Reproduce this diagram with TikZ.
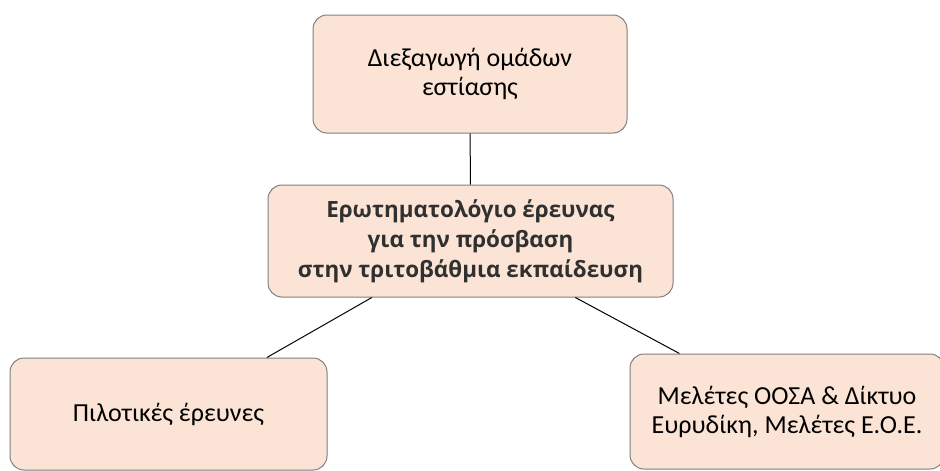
\documentclass[tikz,border=0pt]{standalone}
\usepackage{fontspec}
\setmainfont{Carlito}
\newfontfamily\boldfam{Open Sans}
\definecolor{boxfill}{HTML}{FBE4D6}
\definecolor{boxline}{HTML}{808080}
\definecolor{boldtext}{HTML}{303030}
\tikzset{
  box/.style={draw=boxline, line width=1pt, fill=boxfill, rounded corners=14pt,
    rectangle, inner sep=0pt, align=center, font=\fontsize{26}{29}\selectfont},
  link/.style={draw=black, line width=1pt}
}
\begin{document}
\begin{tikzpicture}[x=1pt,y=-1pt]
\useasboundingbox (0,0) rectangle (940,471);
\clip (0,0) rectangle (940,471);
\node[box, minimum width=314pt, minimum height=118pt] (top) at (470,74)
  {Διεξαγωγή ομάδων\\εστίασης};
\node[box, minimum width=405pt, minimum height=112pt, text=boldtext, font=\boldfam\fontsize{22.4}{30}\selectfont\bfseries] (mid) at (470.5,241)
  {Ερωτηματολόγιο έρευνας\\για την πρόσβαση\\στην τριτοβάθμια εκπαίδευση};
\node[box, minimum width=317pt, minimum height=112pt] (left) at (168.5,414)
  {Πιλοτικές έρευνες};
\node[box, minimum width=314pt, minimum height=115pt] (right) at (787,411.5)
  {Μελέτες ΟΟΣΑ \& Δίκτυο\\Ευρυδίκη, Μελέτες Ε.Ο.Ε.};
\draw[link] (top) -- (mid);
\draw[link] (mid) -- (left);
\draw[link] (mid) -- (right);
\end{tikzpicture}
\end{document}
